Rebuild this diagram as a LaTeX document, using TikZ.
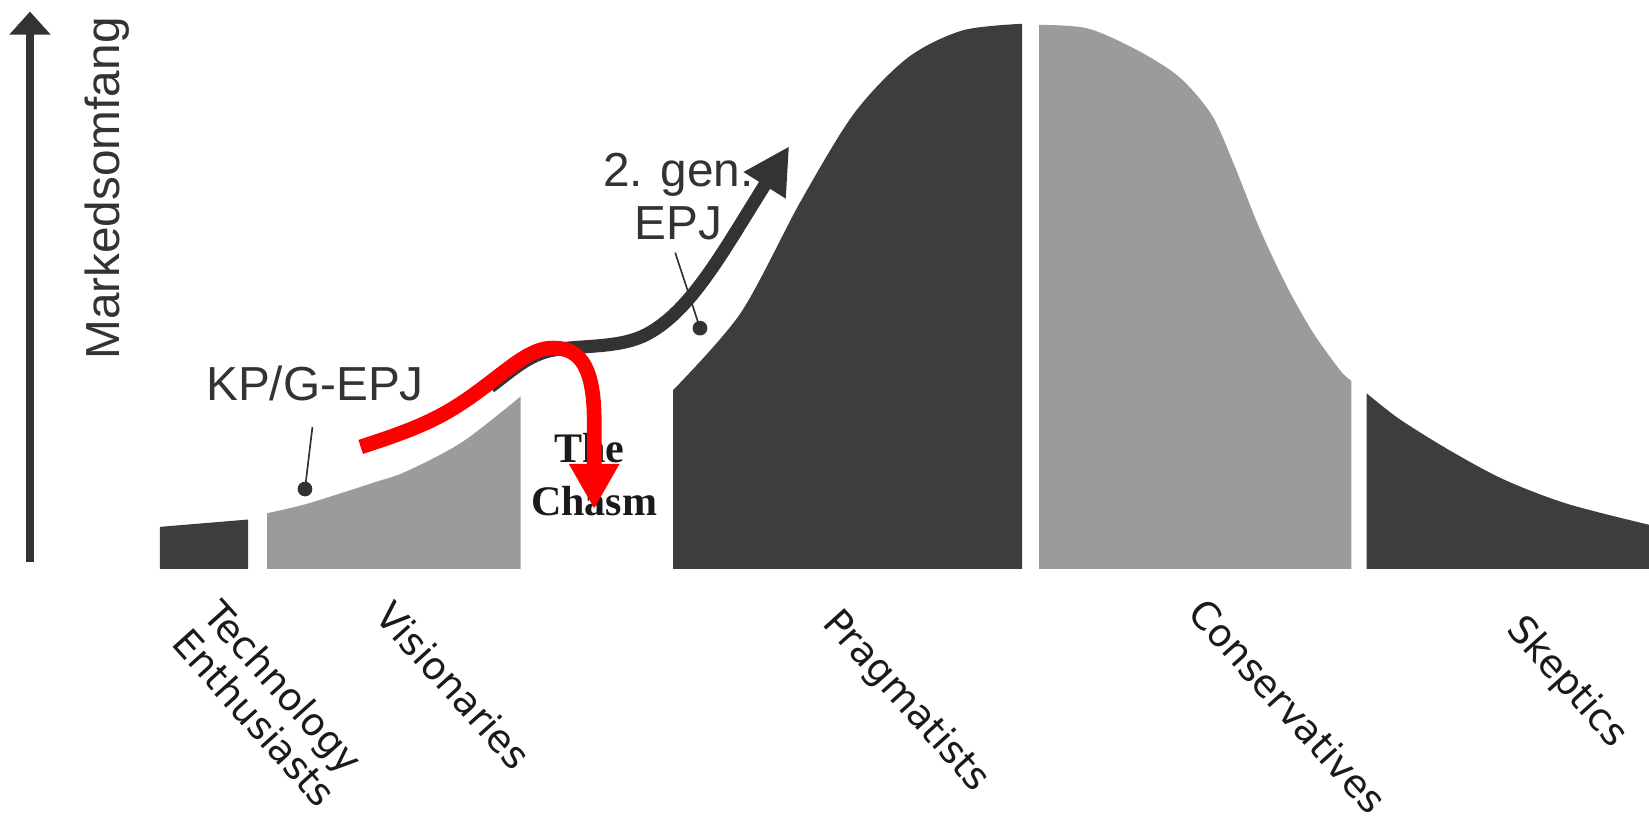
\documentclass[tikz,border=0pt]{standalone}
\usepackage{fontspec}
\usepackage{tikz}
\usetikzlibrary{positioning,arrows.meta}
\newfontfamily\arialfont{Liberation Sans}
\newfontfamily\groupfont{DejaVu Sans}
\newfontfamily\timesfont{Liberation Serif}
\definecolor{inkgray}{HTML}{333333}
\definecolor{shadedark}{HTML}{3D3D3D}
\definecolor{shadelight}{HTML}{9B9B9B}
\definecolor{chasmred}{HTML}{FF0000}
\definecolor{labelink}{HTML}{1A1A1A}

\begin{document}
\begin{tikzpicture}[
		x=0.5pt,y=-0.5pt,
		every node/.style={
			inner sep=0pt,
			outer sep=0pt
		},
		darkband/.style={fill=shadedark},
		lightband/.style={fill=shadelight},
		biglabel/.style={font=\arialfont\fontsize{22.7}{26}\selectfont,text=inkgray},
		chasmlabel/.style={font=\timesfont\bfseries\fontsize{20}{25}\selectfont,text=labelink},
		grouplabel/.style={font=\groupfont\fontsize{18.2}{20}\selectfont,text=labelink,
			rotate=-48,anchor=north west,align=left},
		callout/.style={draw=inkgray,line width=0.8pt},
		]
		
		\useasboundingbox (0,0) rectangle (1568,785);
		
		\fill[darkband] (152,541) -- (152,501) -- (236,494) -- (236,541) -- cycle;
		\fill[lightband] (254,541) -- plot[smooth] coordinates
			{(254,488) (292,479) (355,459) (387,448) (440,420) (495,377)}
			-- (495,541) -- cycle;
		\fill[darkband] (640,541) -- plot[smooth] coordinates
			{(640,371) (704,298) (761,192) (812,108) (863,55) (915,29) (972,22.6)}
			-- (972,541) -- cycle;
		\fill[lightband] (988,541) -- plot[smooth] coordinates
			{(988,23.6) (1034,27) (1080,47) (1121,73) (1152,109) (1172,153) (1198,218)
			 (1224,273) (1249,317) (1275,353) (1285,362)}
			-- (1285,541) -- cycle;
		\fill[darkband] (1299.5,541) -- plot[smooth] coordinates
			{(1299.5,374) (1330,398) (1378,428) (1430,456) (1490,479) (1568,499)}
			-- (1568,541) -- cycle;
		
		\coordinate (axisfoot) at (28.5,534);
		\coordinate (axistop) at (28.5,11);
		\coordinate (kpdot) at (290,465);
		\coordinate (epjdot) at (665.6,312);
		\coordinate (blackstart) at (466,368);
		\coordinate (gentip) at (750.5,139);
		\coordinate (redstart) at (343,425);
		\coordinate (chasmtip) at (565,484);
		
		\node[biglabel,rotate=90,anchor=base west]
		(axislbl) at (114,342)
		{Markedsomfang};
		
		\node[biglabel,anchor=base]
		(kplbl) at (299.5,381)
		{KP/G-EPJ};
		
		\node[biglabel,anchor=base]
		(genlbl) at (645,177.5)
		{2. gen.};
		
		\node[biglabel,below=5pt of genlbl]
		(epjlbl)
		{EPJ};
		
		\node[chasmlabel,anchor=base]
		(thelbl) at (560.6,440)
		{The};
		
		\node[chasmlabel,below=11pt of thelbl,xshift=2.2pt]
		(chasmlbl)
		{Chasm};
		
		\node[grouplabel]
		(techlbl) at (212,568)
		{Technology\\Enthusiasts};
		
		\node[grouplabel]
		(vislbl) at (376,569)
		{Visionaries};
		
		\node[grouplabel]
		(praglbl) at (802,575)
		{Pragmatists};
		
		\node[grouplabel]
		(conslbl) at (1149,566)
		{Conservatives};
		
		\node[grouplabel]
		(skeplbl) at (1452,581)
		{Skeptics};
		
		\draw[inkgray,line width=3.8pt,-{Triangle[width=19pt,length=11pt]}] (axisfoot) -- (axistop);
		
		\draw[callout] ([xshift=-1.2pt,yshift=-12.5pt]kplbl.base) -- (kpdot);
		\draw[callout] ([xshift=-1.5pt,yshift=-6pt]epjlbl.base) -- (epjdot);
		\fill[inkgray] (kpdot) circle (3.5pt);
		\fill[inkgray] (epjdot) circle (3.5pt);
		
		\draw[inkgray,line width=6.2pt,-{Triangle[width=22pt,length=22pt]}]
		(blackstart) .. controls (490,350) and (505,335) .. (532,332)
		.. controls (560,328) and (595,331) .. (620,315)
		.. controls (660,291) and (690,235) .. (gentip);
		
		\draw[chasmred,line width=7pt,-{Triangle[width=22.5pt,length=21.5pt]}]
		(redstart) .. controls (395,408) and (420,398) .. (455,372)
		.. controls (485,350) and (505,330) .. (527,331)
		.. controls (553,331) and (565,352) .. (565,400) -- (chasmtip);
		
	\end{tikzpicture}
\end{document}
